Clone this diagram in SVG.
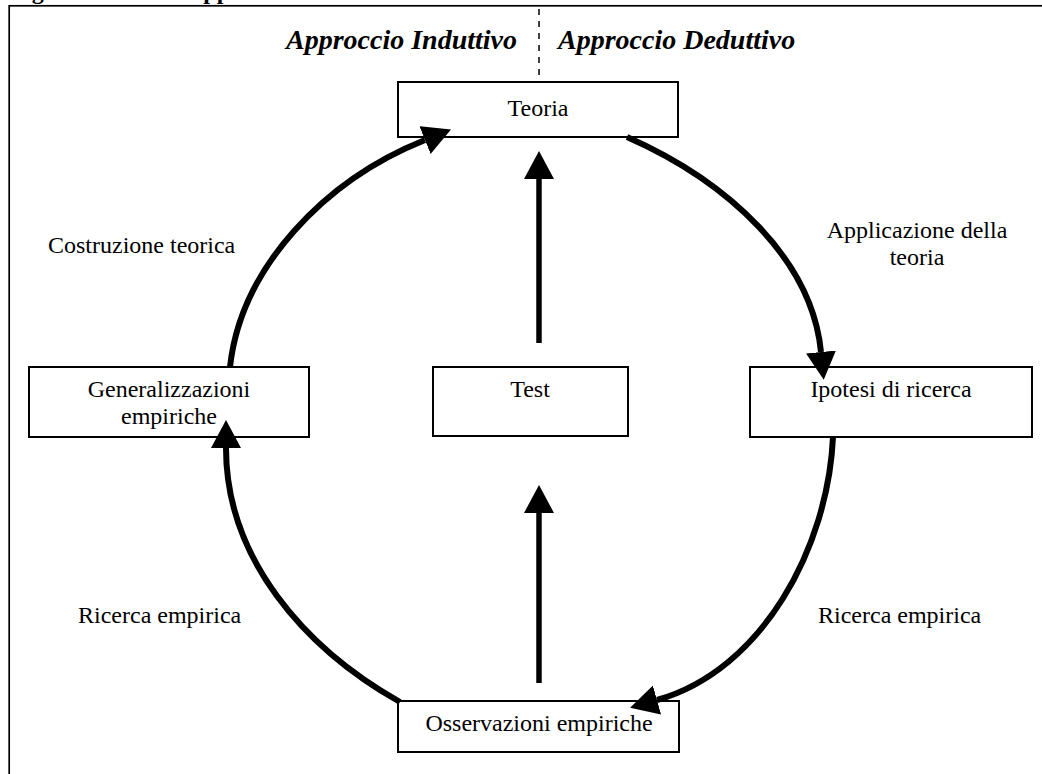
<svg xmlns="http://www.w3.org/2000/svg" width="1042" height="774" viewBox="0 0 1042 774">
  <defs>
    <style>
      .box { fill: #fff; stroke: #000; stroke-width: 2; }
      .lbl { font-family: "Liberation Serif", "Times New Roman", serif; font-size: 24px; fill: #000; }
      .mid { text-anchor: middle; }
      .head { font-family: "Liberation Serif", "Times New Roman", serif; font-size: 28px; font-weight: bold; font-style: italic; fill: #000; }
      .title { font-family: "Liberation Serif", "Times New Roman", serif; font-size: 24px; font-weight: bold; fill: #000; }
      .arc { fill: none; stroke: #000; stroke-width: 6; marker-end: url(#tip); }
      .up { fill: none; stroke: #000; stroke-width: 5.5; marker-end: url(#tip); }
    </style>
    <marker id="tip" viewBox="0 0 28 30" refX="0" refY="15" markerWidth="28" markerHeight="30" markerUnits="userSpaceOnUse" orient="auto">
      <path d="M0,0 L28,15 L0,30 Z" fill="#000"/>
    </marker>
  </defs>

  <rect width="1042" height="774" fill="#fff"/>

  <!-- figure caption, cut by the top edge -->
  <text class="title" x="10.5" y="-1">Figura 1.1 – <tspan x="186">Approcci induttivo e deduttivo</tspan></text>

  <!-- outer frame -->
  <rect x="9.2" y="5.8" width="1100" height="900" fill="none" stroke="#000" stroke-width="1.7"/>

  <!-- divider between the two approaches -->
  <line x1="539" y1="9" x2="539" y2="82" stroke="#000" stroke-width="1.5" stroke-dasharray="6 6"/>
  <text class="head" x="286" y="49">Approccio Induttivo</text>
  <text class="head" x="558" y="49">Approccio Deduttivo</text>

  <!-- side labels -->
  <text class="lbl" x="48" y="253">Costruzione teorica</text>
  <text class="lbl mid" x="917" y="238">Applicazione della</text>
  <text class="lbl mid" x="917" y="265">teoria</text>
  <text class="lbl" x="78" y="623">Ricerca empirica</text>
  <text class="lbl" x="818" y="623">Ricerca empirica</text>

  <g id="teoria">
    <rect class="box" x="398" y="82" width="280" height="55"/>
    <text class="lbl mid" x="538" y="116">Teoria</text>
  </g>

  <g id="generalizzazioni">
    <rect class="box" x="29" y="367" width="280" height="70"/>
    <text class="lbl mid" x="169" y="397">Generalizzazioni</text>
    <text class="lbl mid" x="169" y="424">empiriche</text>
  </g>

  <g id="test">
    <rect class="box" x="433" y="367" width="195" height="69"/>
    <text class="lbl mid" x="530" y="397">Test</text>
  </g>

  <g id="ipotesi">
    <rect class="box" x="750" y="367" width="282" height="70"/>
    <text class="lbl mid" x="891" y="397">Ipotesi di ricerca</text>
  </g>

  <g id="osservazioni">
    <rect class="box" x="398" y="701" width="281" height="51"/>
    <text class="lbl mid" x="539" y="731">Osservazioni empiriche</text>
  </g>

  <g id="connectors">
    <!-- inductive side: empirical generalisations up to theory -->
    <path class="arc" d="M230,367 C241,267 325,180 425,140"/>
    <!-- deductive side: theory down to hypotheses -->
    <path class="arc" d="M627,137 C729,182 812,260 821,352"/>
    <!-- hypotheses down to observations -->
    <path class="arc" d="M833,437 C828,547 763,670 657,700"/>
    <!-- observations up to generalisations -->
    <path class="arc" d="M400,702 C304,648 226,558 226,448"/>
    <!-- central test arrows -->
    <line class="up" x1="539" y1="343" x2="539" y2="179"/>
    <line class="up" x1="539" y1="683" x2="539" y2="513"/>
  </g>
</svg>
